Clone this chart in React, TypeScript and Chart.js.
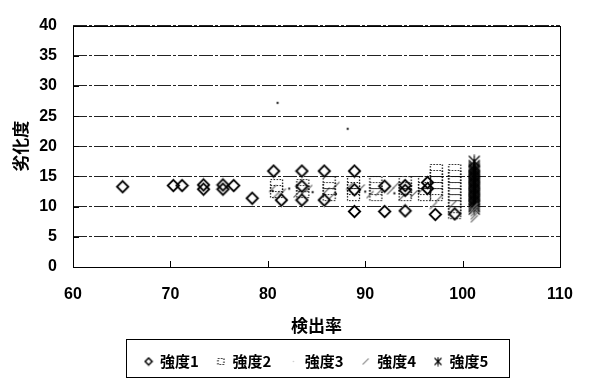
import React, { useEffect, useRef } from 'react';
import { Chart, registerables } from 'chart.js';

Chart.register(...registerables);

// ---- data ----
const xTickValues = [60, 70, 80, 90, 100, 110];
const yTickValues = [0, 5, 10, 15, 20, 25, 30, 35, 40];
const seriesNames = ['強度1', '強度2', '強度3', '強度4', '強度5'];
const xTitle = '検出率';
const yTitle = '劣化度';

// 強度1 (diamonds)
const s1x = [65.1, 70.3, 71.2, 73.4, 73.4, 75.4, 75.4, 76.5, 78.4, 80.6, 81.4, 83.5, 83.5, 83.5, 85.8, 85.8, 88.9, 88.9, 88.9, 92.0, 92.0, 94.1, 94.1, 94.1, 96.4, 96.4, 97.2, 99.2];
const s1y = [13.3, 13.5, 13.5, 13.6, 12.9, 13.6, 12.9, 13.5, 11.4, 15.9, 11.1, 15.9, 13.4, 11.1, 15.9, 11.1, 15.9, 12.8, 9.2, 13.4, 9.2, 13.5, 12.7, 9.3, 14.0, 13.0, 8.7, 8.8];

// 強度2 (dotted squares)
const s2x = [80.9, 80.9, 83.6, 83.6, 86.3, 86.3, 86.3, 88.8, 88.8, 88.8, 91.1, 91.1, 91.1, 94.1, 94.1, 94.1, 96.1, 96.1, 96.1, 97.3, 97.3, 97.3, 97.3, 97.3, 99.2, 99.2, 99.2, 99.2, 99.2, 99.2, 99.2, 99.2];
const s2y = [13.5, 12.5, 13.5, 12.5, 14.0, 13.0, 12.0, 14.0, 13.0, 12.0, 14.0, 13.0, 12.0, 14.0, 13.0, 12.0, 14.0, 13.0, 12.0, 16.0, 15.0, 14.0, 13.0, 12.0, 16.0, 15.0, 14.0, 13.0, 12.0, 11.0, 10.0, 9.0];

// 強度3 (tiny dots)
const s3x = [81.0, 88.2, 80.5, 82.2, 84.6, 87.0, 90.0, 93.0, 95.5];
const s3y = [27.2, 22.9, 12.6, 13.0, 12.4, 12.1, 12.5, 12.2, 12.6];

// 強度4 (slashes)
const s4x = [80.5, 81.5, 83.0, 84.2, 86.0, 87.0, 89.6, 90.5, 92.6, 93.2, 95.0, 97.0, 80.9, 83.8, 86.6, 88.4, 91.4, 93.8, 95.8, 97.6, 99.0, 101.2, 101.2, 101.2, 101.2, 101.2];
const s4y = [13.0, 12.4, 12.1, 13.0, 12.6, 13.5, 13.1, 12.0, 12.6, 13.6, 12.1, 10.2, 12.0, 12.6, 11.8, 13.4, 12.4, 11.6, 12.8, 11.4, 10.4, 10.0, 9.5, 9.0, 8.5, 8.0];

// 強度5 (asterisks)
const s5x = [101.2, 101.2, 101.2, 101.2, 101.2, 101.2, 101.2, 101.2, 101.2, 101.2, 101.2, 101.2, 101.2, 101.2, 101.2, 101.2, 101.2, 101.2, 101.2, 101.2, 101.2, 101.2, 101.2, 101.2, 101.2, 101.2, 101.2, 101.2, 101.2, 101.2];
const s5y = [17.5, 16.8, 16.5, 16.2, 16.0, 15.8, 15.5, 15.2, 15.0, 14.8, 14.5, 14.2, 14.0, 13.8, 13.5, 13.2, 13.0, 12.8, 12.5, 12.2, 12.0, 11.8, 11.5, 11.2, 11.0, 10.8, 10.5, 10.2, 10.0, 9.6];

const CJK = "'Noto Sans CJK JP', sans-serif";
const LAT = "'Liberation Sans', Arial, sans-serif";

function mk(w: number, h: number, draw: (c: CanvasRenderingContext2D) => void) {
  const c = document.createElement('canvas');
  c.width = w;
  c.height = h;
  const ctx = c.getContext('2d')!;
  draw(ctx);
  return c;
}

function diamond(size: number, lw: number) {
  return mk(size, size, (c) => {
    const m = size / 2;
    const r = m - lw;
    c.strokeStyle = '#000';
    c.lineWidth = lw;
    c.beginPath();
    c.moveTo(m, m - r);
    c.lineTo(m + r, m);
    c.lineTo(m, m + r);
    c.lineTo(m - r, m);
    c.closePath();
    c.stroke();
  });
}

function dottedSquare(size: number) {
  return mk(size, size, (c) => {
    c.strokeStyle = '#111';
    c.lineWidth = 1.2;
    c.setLineDash([1.5, 1.5]);
    c.strokeRect(1.5, 1.5, size - 3, size - 3);
  });
}

function dot(size: number, color: string, r: number) {
  return mk(size, size, (c) => {
    c.fillStyle = color;
    c.beginPath();
    c.arc(size / 2, size / 2, r, 0, Math.PI * 2);
    c.fill();
  });
}

function slash(size: number, color: string) {
  return mk(size, size, (c) => {
    c.strokeStyle = color;
    c.lineWidth = 1.2;
    c.beginPath();
    c.moveTo(1.5, size - 1.5);
    c.lineTo(size - 1.5, 1.5);
    c.stroke();
  });
}

function asterisk(size: number, lw: number) {
  return mk(size, size, (c) => {
    c.strokeStyle = '#000';
    c.lineWidth = lw;
    const a = 1.5;
    const b = size - 1.5;
    const m = size / 2;
    c.beginPath();
    c.moveTo(a, a);
    c.lineTo(b, b);
    c.moveTo(b, a);
    c.lineTo(a, b);
    c.moveTo(m, 0.5);
    c.lineTo(m, size - 0.5);
    c.stroke();
  });
}

function pts(xs: number[], ys: number[]) {
  return xs.map((x, i) => ({ x, y: ys[i] }));
}

export default function App() {
  const ref = useRef<HTMLCanvasElement>(null);

  useEffect(() => {
    if (!ref.current) return;
    const chartMarkers = [diamond(15, 1.8), dottedSquare(15), dot(4, '#333', 1.2), slash(10, '#777'), asterisk(14, 1.2)];
    const legendMarkers = [diamond(10, 1.5), dottedSquare(9), dot(3, '#ccc', 0.8), slash(9, '#999'), asterisk(10, 1.1)];
    const xs = [s1x, s2x, s3x, s4x, s5x];
    const ys = [s1y, s2y, s3y, s4y, s5y];

    const framePlugin = {
      id: 'frame',
      beforeDraw(chart: any) {
        const c = chart.ctx;
        c.save();
        c.fillStyle = '#fff';
        c.fillRect(0, 0, chart.width, chart.height);
        c.restore();
      },
      afterDraw(chart: any) {
        const c = chart.ctx;
        const a = chart.chartArea;
        c.save();
        c.strokeStyle = '#000';
        c.lineWidth = 1;
        c.strokeRect(Math.round(a.left) + 0.5, Math.round(a.top) + 0.5, Math.round(a.right - a.left), Math.round(a.bottom - a.top));
        const xs2 = chart.scales.x;
        const ys2 = chart.scales.y;
        c.beginPath();
        xTickValues.forEach((v) => {
          const px = Math.round(xs2.getPixelForValue(v)) + 0.5;
          c.moveTo(px, a.bottom);
          c.lineTo(px, a.bottom - 6);
        });
        yTickValues.forEach((v) => {
          const py = Math.round(ys2.getPixelForValue(v)) + 0.5;
          c.moveTo(a.left, py);
          c.lineTo(a.left + 6, py);
        });
        c.stroke();
        const lg = chart.legend;
        if (lg && lg.legendHitBoxes && lg.legendHitBoxes.length) {
          const hb = lg.legendHitBoxes;
          const first = hb[0];
          const last = hb[hb.length - 1];
          const l = Math.round(first.left - 19) + 0.5;
          const r = Math.round(last.left + last.width + 21) + 0.5;
          const t = Math.round(lg.top + 3) + 0.5;
          const b = chart.height - 1.5;
          c.strokeRect(l, t, r - l, b - t);
        }
        c.restore();
      },
    };

    const chart = new Chart(ref.current, {
      type: 'scatter',
      data: {
        datasets: seriesNames.map((name, i) => ({
          label: name,
          data: pts(xs[i], ys[i]),
          pointStyle: chartMarkers[i] as any,
          pointRadius: 5,
          borderColor: '#000',
          backgroundColor: 'rgba(0,0,0,0)',
        })),
      },
      options: {
        responsive: false,
        animation: false,
        layout: { padding: { top: 14, right: 41, left: 0, bottom: 0 } },
        plugins: {
          tooltip: { enabled: false },
          legend: {
            position: 'bottom',
            fullSize: false,
            labels: {
              usePointStyle: true,
              boxWidth: 8,
              boxHeight: 6,
              padding: 18,
              color: '#000',
              font: { family: CJK, size: 15, weight: 'bold' },
              generateLabels: (ch: any) => {
                const items = Chart.defaults.plugins.legend.labels.generateLabels(ch);
                return items.map((it: any, i: number) => ({ ...it, pointStyle: legendMarkers[i] }));
              },
            },
          },
        },
        scales: {
          x: {
            type: 'linear',
            min: 60,
            max: 110,
            afterBuildTicks: (s: any) => {
              s.ticks = xTickValues.map((v) => ({ value: v }));
            },
            afterFit: (s: any) => {
              s.height = 69;
            },
            ticks: { color: '#000', padding: 18, font: { family: LAT, size: 16, weight: 'bold' } },
            grid: { display: false, drawTicks: false },
            border: { display: false },
            title: {
              display: true,
              text: xTitle,
              color: '#000',
              font: { family: CJK, size: 17, weight: 'bold' },
              padding: { top: 0, bottom: 0 },
            },
          },
          y: {
            type: 'linear',
            min: 0,
            max: 40,
            afterBuildTicks: (s: any) => {
              s.ticks = yTickValues.map((v) => ({ value: v }));
            },
            afterFit: (s: any) => {
              s.width = 73;
            },
            ticks: { color: '#000', padding: 16, font: { family: LAT, size: 16, weight: 'bold' } },
            grid: { color: '#222', lineWidth: 1, drawTicks: false },
            border: { display: false, dash: [14, 2, 3, 2] },
            title: {
              display: true,
              text: yTitle,
              color: '#000',
              font: { family: CJK, size: 17, weight: 'bold' },
              padding: { top: 10, bottom: 0 },
            },
          },
        },
      },
      plugins: [framePlugin],
    } as any);
    return () => chart.destroy();
  }, []);

  return (
    <div style={{ position: 'absolute', left: 0, top: 0, width: 601, height: 379 }}>
      <canvas ref={ref} width={601} height={379} style={{ display: 'block' }} />
    </div>
  );
}
